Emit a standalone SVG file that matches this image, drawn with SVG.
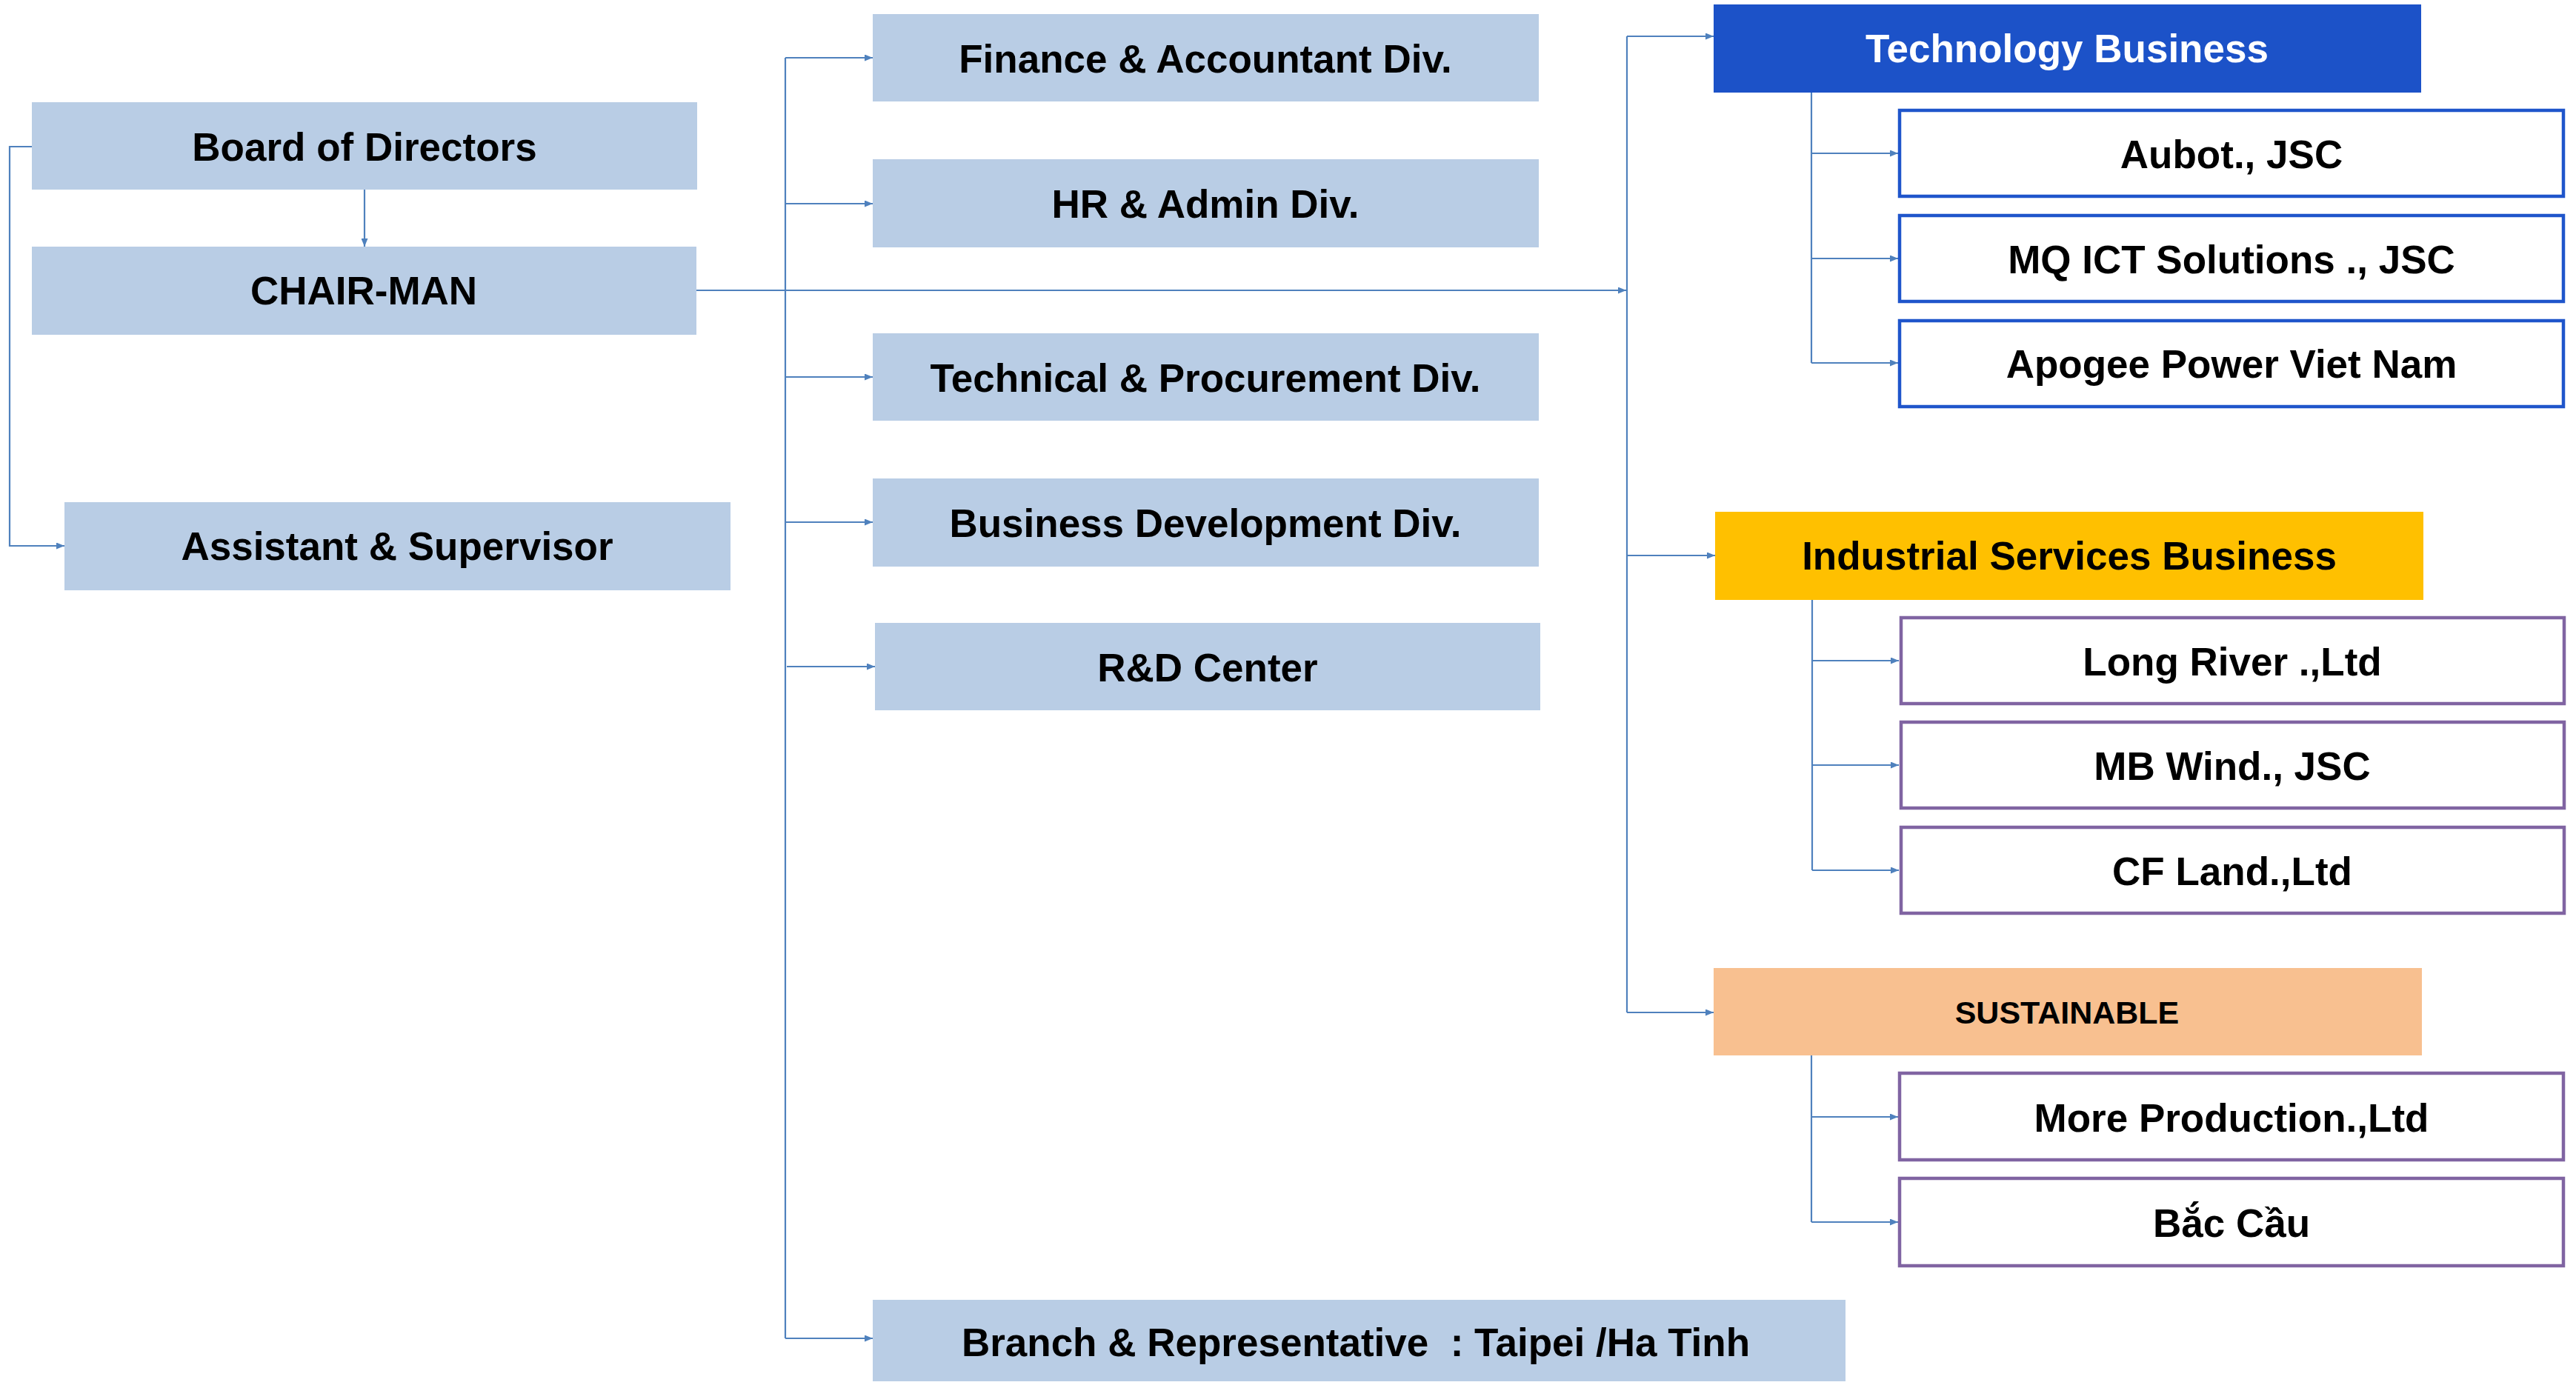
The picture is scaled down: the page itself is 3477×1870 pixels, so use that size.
<svg xmlns="http://www.w3.org/2000/svg" width="3477" height="1870" viewBox="0 0 3477 1870">
<style>
.lb{fill:#B9CDE5}
.t{font-family:"Liberation Sans",Arial,sans-serif;font-weight:bold;font-size:53px;fill:#000;text-anchor:middle}
.w{fill:#fff}
.sb{fill:#fff;stroke:#1F55CB;stroke-width:4.5}
.sp{fill:#fff;stroke:#8064A2;stroke-width:4.5}
.c{fill:none;stroke:#4F81BD;stroke-width:2.2}
.a{marker-end:url(#ah)}
</style>
<defs>
<marker id="ah" markerUnits="userSpaceOnUse" markerWidth="11" markerHeight="9" refX="11" refY="4.5" orient="auto">
<path d="M0,0 L11,4.5 L0,9 z" fill="#4F81BD"/>
</marker>
</defs>
<rect width="3477" height="1870" fill="#fff"/>
<g id="connectors">
<path class="c a" d="M43,198 H13 V737 H87"/>
<path class="c a" d="M492,256 V333"/>
<path class="c a" d="M940,392 H2195"/>
<path class="c" d="M1060,78 V1807"/>
<path class="c a" d="M1060,78 H1178"/>
<path class="c a" d="M1060,275 H1178"/>
<path class="c a" d="M1060,509 H1178"/>
<path class="c a" d="M1060,705 H1178"/>
<path class="c a" d="M1062,900 H1181"/>
<path class="c a" d="M1060,1807 H1178"/>
<path class="c" d="M2196,49 V1367"/>
<path class="c a" d="M2196,49 H2313"/>
<path class="c a" d="M2196,750 H2315"/>
<path class="c a" d="M2196,1367 H2313"/>
<path class="c" d="M2445,125 V490"/>
<path class="c a" d="M2445,207 H2562"/>
<path class="c a" d="M2445,349 H2562"/>
<path class="c a" d="M2445,490 H2562"/>
<path class="c" d="M2446,810 V1175"/>
<path class="c a" d="M2446,892 H2563"/>
<path class="c a" d="M2446,1033 H2563"/>
<path class="c a" d="M2446,1175 H2563"/>
<path class="c" d="M2445,1425 V1650"/>
<path class="c a" d="M2445,1508 H2562"/>
<path class="c a" d="M2445,1650 H2562"/>
</g>
<g id="board"><rect class="lb" x="43" y="138" width="898" height="118"/><text class="t" x="492" y="217">Board of Directors</text></g>
<g id="chairman"><rect class="lb" x="43" y="333" width="897" height="119"/><text class="t" x="491" y="411">CHAIR-MAN</text></g>
<g id="assistant"><rect class="lb" x="87" y="678" width="899" height="119"/><text class="t" x="536" y="756">Assistant &amp; Supervisor</text></g>
<g id="finance"><rect class="lb" x="1178" y="19" width="899" height="118"/><text class="t" x="1627" y="98">Finance &amp; Accountant Div.</text></g>
<g id="hr"><rect class="lb" x="1178" y="215" width="899" height="119"/><text class="t" x="1627" y="294">HR &amp; Admin Div.</text></g>
<g id="technical"><rect class="lb" x="1178" y="450" width="899" height="118"/><text class="t" x="1627" y="529">Technical &amp; Procurement Div.</text></g>
<g id="bizdev"><rect class="lb" x="1178" y="646" width="899" height="119"/><text class="t" x="1627" y="725">Business Development Div.</text></g>
<g id="rnd"><rect class="lb" x="1181" y="841" width="898" height="118"/><text class="t" x="1630" y="920">R&amp;D Center</text></g>
<g id="branch"><rect class="lb" x="1178" y="1755" width="1313" height="110"/><text class="t" x="1830" y="1831" xml:space="preserve">Branch &amp; Representative  : Taipei /Ha Tinh</text></g>
<g id="tech-business"><rect x="2313" y="6" width="955" height="119" fill="#1C52C8"/><text class="t w" x="2790" y="84">Technology Business</text></g>
<g id="aubot"><rect class="sb" x="2564" y="149" width="896" height="116"/><text class="t" x="3012" y="227">Aubot., JSC</text></g>
<g id="mq"><rect class="sb" x="2564" y="291" width="896" height="116"/><text class="t" x="3012" y="369">MQ ICT Solutions ., JSC</text></g>
<g id="apogee"><rect class="sb" x="2564" y="433" width="896" height="116"/><text class="t" x="3012" y="510">Apogee Power Viet Nam</text></g>
<g id="industrial"><rect x="2315" y="691" width="956" height="119" fill="#FFC000"/><text class="t" x="2793" y="769">Industrial Services Business</text></g>
<g id="longriver"><rect class="sp" x="2566" y="834" width="895" height="116"/><text class="t" x="3013" y="912">Long River .,Ltd</text></g>
<g id="mbwind"><rect class="sp" x="2566" y="975" width="895" height="116"/><text class="t" x="3013" y="1053">MB Wind., JSC</text></g>
<g id="cfland"><rect class="sp" x="2566" y="1117" width="895" height="116"/><text class="t" x="3013" y="1195">CF Land.,Ltd</text></g>
<g id="sustainable"><rect x="2313" y="1307" width="956" height="118" fill="#F8C090"/><text class="t" x="2790" y="1382" style="font-size:43px">SUSTAINABLE</text></g>
<g id="more"><rect class="sp" x="2564" y="1449" width="896" height="117"/><text class="t" x="3012" y="1528">More Production.,Ltd</text></g>
<g id="baccau"><rect class="sp" x="2564" y="1591" width="896" height="118"/><text class="t" x="3012" y="1670">Bắc Cầu</text></g>
</svg>
